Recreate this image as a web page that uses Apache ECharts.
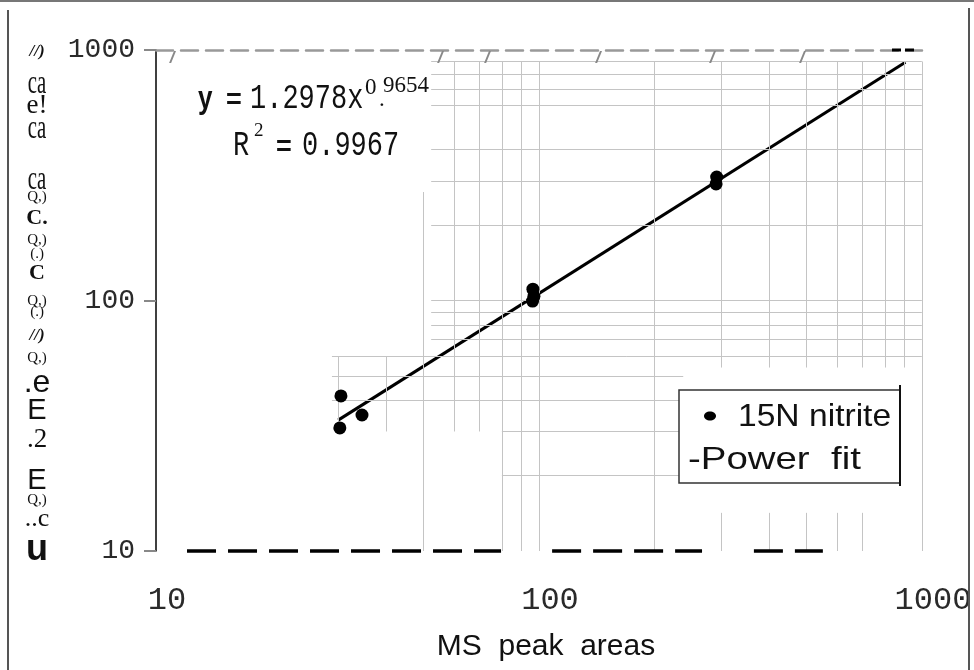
<!DOCTYPE html>
<html>
<head>
<meta charset="utf-8">
<script src="https://cdn.jsdelivr.net/npm/echarts@6/dist/echarts.min.js"></script>
<style>
  html, body { margin: 0; padding: 0; background: #fff; }
  #chart { width: 974px; height: 670px; }
</style>
</head>
<body>
<div id="chart"></div>
<script>
// data (log-log)
const peakAreas = [30.4, 30.2, 34.5, 96.4, 97.0, 96.2, 291, 290];
const nitrite = [41.6, 31.0, 34.9, 111, 104, 99.5, 311, 292];
const fitX = [29.9, 905];
const fitY = [33.3, 893];
const axisMin = 10;
const axisMax = 1000;
const yTitleParts = ['//)', 'ca', 'e!', 'ca', 'ca', 'Q,)', 'C.', 'Q,)', '(.)', 'C', 'Q,)', '(.)',
  '//)', 'Q,)', '.e', 'E', '.2', 'E', 'Q,)', '..c', 'u'];

// partial minor grid of the scan: [value, from, to]
const vGrid = [
  [30, 30, 60], [40, 30, 60], [50, 10, 271], [60, 30, 900], [70, 30, 900],
  [80, 10, 900], [90, 10, 900], [100, 10, 900], [200, 10, 900],
  [300, 54, 900], [400, 54, 900], [500, 54, 900], [600, 54, 900], [700, 54, 900],
  [800, 54, 900], [900, 54, 900], [999, 10, 900],
  [300, 10, 14.2], [400, 10, 14.2], [500, 10, 14.2], [600, 10, 14.2], [700, 10, 14.2]
];
const hGrid = [
  [900, 52.3, 999], [800, 52.3, 999], [700, 52.3, 999], [600, 52.3, 999],
  [400, 52.3, 999], [300, 52.3, 999], [200, 52.3, 999],
  [100, 52.3, 999], [90, 52.3, 999], [80, 52.3, 999], [70, 52.3, 999],
  [60, 28.8, 999], [50, 28.8, 238], [40, 28.8, 238], [30, 80, 238], [20, 80, 238]
];
const baseDashes = [[12.05, 79.6], [108.2, 266.5], [364, 551]];

const seg = (a, b) => [{ coord: a }, { coord: b }];
const gridSegs = vGrid.map(g => seg([g[0], g[1]], [g[0], g[2]]))
  .concat(hGrid.map(g => seg([g[1], g[0]], [g[2], g[0]])));
const baseSegs = baseDashes.map(d => seg([d[0], axisMin], [d[1], axisMin]));

// y title glyph layout: [font, y, scaleX, scaleY]
const yTitleLayout = [
  ['italic bold 17px "Liberation Serif"', 52, 1, 1],
  ['26px "Liberation Serif"', 84, 0.8, 1.3],
  ['27px "Liberation Serif"', 106, 1, 1.05],
  ['26px "Liberation Serif"', 129, 0.8, 1.3],
  ['26px "Liberation Serif"', 180, 0.8, 1.3],
  ['15px "Liberation Serif"', 197, 1, 1],
  ['bold 22px "Liberation Serif"', 218, 1, 1],
  ['15px "Liberation Serif"', 240, 1, 1],
  ['15px "Liberation Serif"', 254, 1, 1],
  ['bold 22px "Liberation Serif"', 273, 1, 1],
  ['15px "Liberation Serif"', 301, 1, 1],
  ['15px "Liberation Serif"', 312, 1, 1],
  ['italic bold 17px "Liberation Serif"', 336, 1, 1],
  ['15px "Liberation Serif"', 358, 1, 1],
  ['32px "Liberation Sans"', 383, 1, 1],
  ['29px "Liberation Sans"', 411, 1, 1],
  ['27px "Liberation Serif"', 440, 1, 1],
  ['29px "Liberation Sans"', 481, 1, 1],
  ['15px "Liberation Serif"', 500, 1, 1],
  ['26px "Liberation Serif"', 519, 1, 1],
  ['bold 36px "Liberation Sans"', 550, 1, 1]
];

const txt = (text, x, y, font, opts) => Object.assign({
  type: 'text', x: x, y: y, z: 100,
  style: { text: text, font: font, fill: '#111', verticalAlign: 'middle' }
}, opts || {});

const yTitle = yTitleParts.map((t, i) => {
  const l = yTitleLayout[i];
  return txt(t, 37, l[1], l[0], { scaleX: l[2], scaleY: l[3], style: {
    text: t, font: l[0], fill: '#111', verticalAlign: 'middle', align: 'center' } });
});

const mono = '27px "Liberation Mono"';
const equation = [
  txt('y', 198, 99, 'bold 26px "Liberation Sans"', { scaleY: 1.2 }),
  txt('=', 226, 101, 'bold 27px "Liberation Sans"'),
  txt('1.2978x', 250, 99, mono, { scaleY: 1.3 }),
  txt('0', 365, 88, '23px "Liberation Serif"'),
  txt('.', 379, 100, '23px "Liberation Serif"'),
  txt('9654', 383, 86, '23px "Liberation Serif"'),
  txt('R', 233, 146, mono, { scaleY: 1.3 }),
  txt('2', 254, 131, '19px "Liberation Serif"'),
  txt('=', 276, 148, 'bold 27px "Liberation Sans"'),
  txt('0.9967', 302, 146, mono, { scaleY: 1.3 })
];

const slashes = [172, 440, 487, 598, 712, 802].map(x =>
  txt('/', x, 58, 'bold italic 17px "Liberation Sans"', {
    style: { text: '/', font: 'bold italic 17px "Liberation Sans"', fill: '#888', verticalAlign: 'middle', align: 'center' } }));

const line = (x1, y1, x2, y2, stroke, w) => ({
  type: 'line', z: 100, shape: { x1: x1, y1: y1, x2: x2, y2: y2 },
  style: { stroke: stroke, lineWidth: w }
});

const legend = [
  { type: 'rect', z: 99, shape: { x: 679, y: 390, width: 221, height: 93 },
    style: { fill: '#fff', stroke: '#333', lineWidth: 1.5 } },
  line(900, 385, 900, 486, '#111', 2),
  { type: 'ellipse', z: 100, shape: { cx: 710, cy: 416, rx: 6, ry: 4.5 }, style: { fill: '#000' } },
  txt('15N nitrite', 738, 417, '32px "Liberation Sans"', { scaleX: 1.05 }),
  txt('-Power  fit', 688, 460, '32px "Liberation Sans"', { scaleX: 1.2 })
];

const frame = [
  line(0, 1, 974, 1, '#777', 2),
  line(8, 10, 8, 670, '#555', 2),
  line(969, 8, 969, 670, '#555', 2),
  line(150, 551, 150, 551, '#000', 1),
  { type: 'line', z: 100, shape: { x1: 892, y1: 50, x2: 916, y2: 50 },
    style: { stroke: '#000', lineWidth: 3, lineDash: [9, 4] } }
];

const plain = v => String(v);

const chart = echarts.init(document.getElementById('chart'));
chart.setOption({
  animation: false,
  backgroundColor: '#fff',
  grid: { left: 156, top: 50, width: 766, height: 501, containLabel: false, outerBoundsMode: 'none' },
  xAxis: [
    {
      type: 'log', min: axisMin, max: axisMax, position: 'bottom',
      name: 'MS  peak  areas', nameLocation: 'middle', nameGap: 81,
      nameTextStyle: { fontFamily: 'Liberation Sans', fontSize: 30, color: '#111', padding: [0, 0, 0, 14] },
      axisLine: { show: false },
      axisTick: { show: false },
      splitLine: { show: false },
      axisLabel: { formatter: plain, fontFamily: 'Liberation Mono', fontSize: 32, color: '#2a2a2a', margin: 34, padding: [0, 0, 0, 22] }
    },
    {
      type: 'log', min: axisMin, max: axisMax, position: 'top',
      axisLine: { show: true, lineStyle: { color: '#999', width: 2.5, type: [17, 8] } },
      axisTick: { show: false }, axisLabel: { show: false }, splitLine: { show: false }
    }
  ],
  yAxis: {
    type: 'log', min: axisMin, max: axisMax,
    axisLine: { show: true, lineStyle: { color: '#000', width: 1.5 } },
    axisTick: { show: true, length: 12, lineStyle: { color: '#888', width: 2 } },
    splitLine: { show: false },
    axisLabel: { formatter: plain, fontFamily: 'Liberation Mono', fontSize: 28, color: '#2a2a2a', margin: 21 }
  },
  series: [
    {
      type: 'line', data: [], silent: true, z: 1,
      markLine: {
        silent: true, symbol: ['none', 'none'], label: { show: false }, animation: false,
        lineStyle: { color: '#c4c4c4', width: 1, type: 'solid' },
        emphasis: { disabled: true },
        data: gridSegs
      }
    },
    {
      type: 'line', data: [], silent: true, z: 3,
      markLine: {
        silent: true, symbol: ['none', 'none'], label: { show: false }, animation: false,
        lineStyle: { color: '#000', width: 3.5, type: [29, 12] },
        emphasis: { disabled: true },
        data: baseSegs
      }
    },
    {
      name: 'Power fit', type: 'line', z: 4,
      data: fitX.map((x, i) => [x, fitY[i]]),
      symbol: 'none', lineStyle: { color: '#000', width: 3 }
    },
    {
      name: '15N nitrite', type: 'scatter', z: 5,
      data: peakAreas.map((x, i) => [x, nitrite[i]]),
      symbolSize: 13, itemStyle: { color: '#000', opacity: 1 }
    }
  ],
  graphic: frame.concat(slashes, equation, yTitle, legend)
});
</script>
</body>
</html>
